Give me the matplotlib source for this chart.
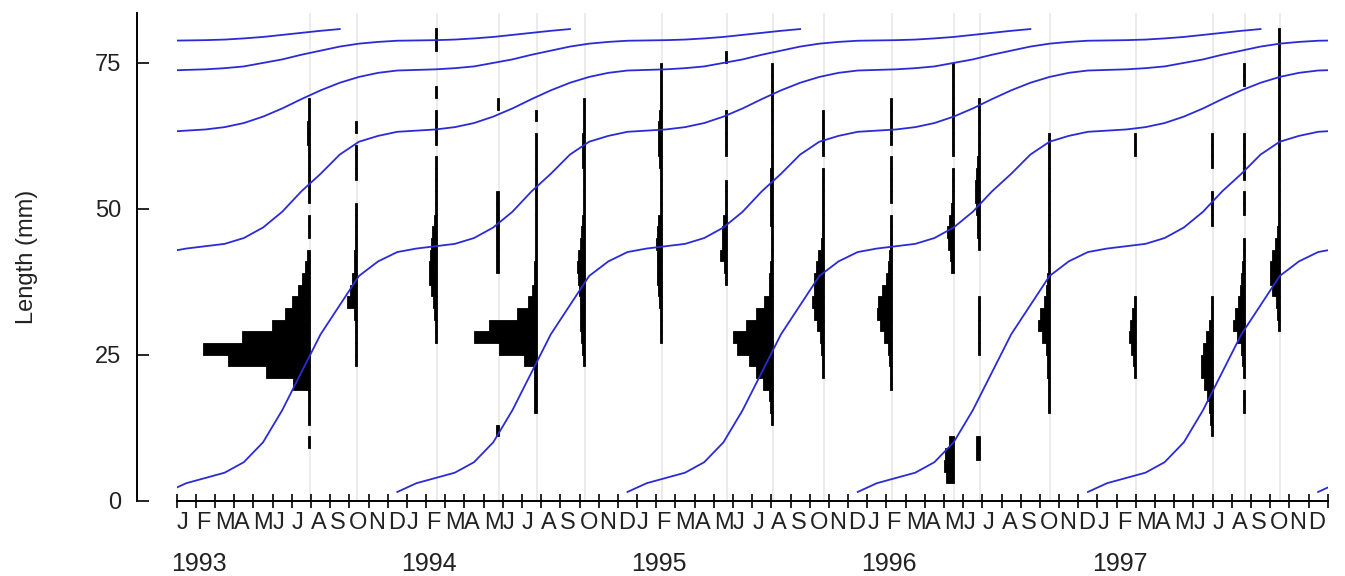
import numpy as np
import matplotlib
matplotlib.use('Agg')
import matplotlib.pyplot as plt
from matplotlib.patches import Rectangle
import matplotlib.transforms as mtransforms

plt.rcParams['font.family'] = ['Liberation Sans', 'DejaVu Sans']

##### data #####
month_letters = ['J', 'F', 'M', 'A', 'M', 'J', 'J', 'A', 'S', 'O', 'N', 'D']
years = [1993, 1994, 1995, 1996, 1997]

# growth curve: length (mm) by age in months since hatching (mid December)
growth_len = [1.5, 3.0, 3.9, 4.8, 6.6, 10.0, 15.5, 22.0, 28.5, 33.5, 38.5, 41.0,
              42.6, 43.2, 43.6, 44.0, 45.0, 46.8, 49.5, 53.0, 56.0, 59.3, 61.5, 62.5,
              63.2, 63.4, 63.6, 64.0, 64.7, 65.8, 67.2, 68.8, 70.3, 71.6, 72.6, 73.3,
              73.7, 73.8, 73.9, 74.1, 74.4, 75.0, 75.6, 76.4, 77.1, 77.8, 78.3, 78.6,
              78.8, 78.85, 78.9, 79.0, 79.2, 79.45, 79.8, 80.15, 80.5, 80.8]
# hatching dates of the cohorts (months since Jan 1993)
cohort_birth = [-48.5, -36.5, -24.5, -12.5, -0.5, 11.5, 23.5, 35.5, 47.5, 59.5]

# length-frequency samples, months since Jan 1993; 2 mm classes
sample_month = [6.95, 9.40, 13.57, 16.8, 18.77, 21.29, 25.29, 28.68, 31.1, 33.75,
                37.3, 40.5, 41.9, 45.5, 50.0, 54.0, 55.7, 57.5]
# centre of the first length class of every sample
sample_first = [10, 24, 28, 12, 16, 24, 28, 38, 14, 22,
                20, 4, 8, 16, 22, 12, 16, 30]
sample_freq = [
    [2, 0, 2, 2, 2, 17, 44, 82, 107, 68, 38, 25, 18, 12, 8, 5, 3, 0, 2, 2, 0, 2, 2, 2, 2, 2, 3, 3, 2, 2],
    [2, 2, 2, 2, 3, 10, 7, 5, 3, 3, 2, 2, 2, 2, 0, 0, 2, 2, 2, 0, 2],
    [2, 2, 3, 4, 6, 8, 8, 7, 6, 5, 3, 2, 2, 2, 2, 2, 0, 2, 2, 2, 0, 2, 0, 0, 0, 2, 2],
    [3, 0, 0, 0, 0, 0, 0, 0, 0, 0, 0, 0, 0, 0, 3, 3, 3, 3, 3, 3, 3, 0, 0, 0, 0, 0, 0, 0, 2],
    [3, 3, 3, 3, 13, 38, 63, 48, 20, 9, 5, 3, 3, 2, 2, 2, 2, 2, 2, 2, 2, 2, 2, 2, 0, 2],
    [2, 3, 4, 5, 5, 5, 6, 7, 8, 7, 5, 4, 3, 2, 2, 2, 2, 3, 3, 3, 2, 2, 2],
    [2, 2, 2, 3, 4, 5, 5, 5, 6, 5, 4, 2, 2, 2, 2, 3, 4, 4, 4, 3, 2, 2, 2, 2],
    [2, 3, 7, 5, 5, 4, 2, 2, 2, 0, 0, 2, 2, 2, 2, 0, 0, 0, 0, 2],
    [2, 3, 4, 10, 17, 24, 36, 40, 27, 17, 9, 4, 4, 3, 2, 2, 2, 3, 3, 3, 3, 3, 2, 2, 2, 2, 2, 2, 2, 2, 2],
    [2, 2, 3, 4, 7, 10, 12, 10, 10, 8, 6, 3, 2, 2, 2, 2, 2, 2, 0, 2, 2, 2, 2],
    [2, 2, 3, 4, 8, 12, 15, 14, 10, 6, 4, 3, 2, 2, 2, 0, 2, 2, 2, 2, 0, 2, 2, 2, 2],
    [8, 10, 9, 5, 0, 0, 0, 0, 0, 0, 0, 0, 0, 0, 0, 0, 0, 0, 3, 4, 6, 7, 5, 3, 2, 2, 2, 0, 2, 2, 2, 2, 2, 2, 2, 2],
    [4, 4, 0, 0, 0, 0, 0, 0, 0, 2, 2, 2, 2, 2, 0, 0, 0, 0, 2, 3, 3, 4, 5, 5, 4, 3, 2, 2, 2, 2, 2],
    [2, 2, 2, 3, 3, 4, 8, 12, 10, 6, 4, 3, 2, 2, 2, 2, 2, 2, 2, 2, 2, 2, 2, 2],
    [2, 3, 5, 7, 6, 4, 2, 0, 0, 0, 0, 0, 0, 0, 0, 0, 0, 0, 0, 2, 2],
    [2, 3, 4, 6, 9, 12, 12, 10, 7, 4, 2, 2, 0, 0, 0, 0, 0, 0, 2, 2, 2, 0, 0, 2, 2, 2],
    [2, 2, 0, 2, 3, 4, 8, 12, 10, 7, 5, 4, 3, 2, 2, 0, 0, 2, 2, 0, 2, 2, 2, 2, 0, 0, 0, 0, 2, 2],
    [2, 3, 4, 8, 10, 10, 8, 5, 3, 2, 2, 2, 2, 2, 2, 2, 2, 2, 2, 2, 2, 2, 2, 2, 2, 2],
]

##### layout #####
W, H = 1345, 576
fig = plt.figure(figsize=(W / 100, H / 100), dpi=100)
x0, x1, y0, y1 = 136.7, 1327.7, 500.7, 13.3
ax = fig.add_axes([x0 / W, (H - y0) / H, (x1 - x0) / W, (y0 - y1) / H])
ax.set_xlim(-2.085, 60)
ax.set_ylim(0, 83.5)

freq_scale = 1.0 / 19.18   # months of bar length per frequency unit

# sampling date lines
for m in sample_month:
    ax.axvline(m, color='#e8e8e8', lw=1.2, zorder=1)

# length-frequency histograms, drawn to the left of the sampling date
for m, first, freq in zip(sample_month, sample_first, sample_freq):
    freq = np.array(freq, dtype=float)
    centres = first + 2 * np.arange(len(freq))
    keep = freq > 0
    ax.barh(centres[keep], -freq[keep] * freq_scale, left=m, height=2,
            color='black', edgecolor='black', linewidth=0.6, zorder=2)

# growth curves
clip = Rectangle((0, -5), 60, 100, transform=ax.transData)
ages = np.arange(len(growth_len))
for b in cohort_birth:
    line, = ax.plot(b + ages, growth_len, color='#2b2bd6', lw=1.3, zorder=3)
    line.set_clip_path(clip)

##### axes #####
for s in ['top', 'right']:
    ax.spines[s].set_visible(False)
ax.spines['left'].set_linewidth(1.4)
ax.spines['bottom'].set_linewidth(1.4)
ax.spines['bottom'].set_bounds(0, 60)

ax.set_xticks(range(61))
ax.set_xticklabels(month_letters * len(years) + [''], ha='left')
ax.tick_params(axis='x', direction='inout', length=10, width=1.2, pad=3,
               labelsize=17, labelcolor='#222222')
ax.set_yticks([0, 25, 50, 75])
ax.tick_params(axis='y', direction='in', length=8.5, width=1.2, pad=11,
               labelsize=17, labelcolor='#222222')

ax.set_ylabel('Length (mm)', fontsize=17, color='#222222')
ax.yaxis.set_label_coords((38 - x0) / (x1 - x0), 0.5)

trans = mtransforms.blended_transform_factory(ax.transData, ax.transAxes)
for i, yr in enumerate(years):
    ax.text(12 * i - 0.3, -0.13, str(yr), transform=trans, ha='left', va='center',
            fontsize=18, color='#222222')

fig.savefig('out.png', dpi=100)
